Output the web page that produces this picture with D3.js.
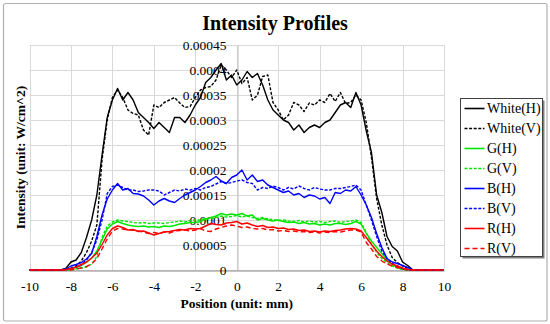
<!DOCTYPE html>
<html>
<head>
<meta charset="utf-8">
<script src="https://cdn.jsdelivr.net/npm/d3@7/dist/d3.min.js"></script>
<style>
  html, body { margin: 0; padding: 0; background: #fff; }
  svg { display: block; font-family: "Liberation Serif", "Times New Roman", serif; }
</style>
</head>
<body>
<svg id="chart"></svg>
<script>
// values are in units of 1e-5 W/cm^2
const UNIT = 1e-5

const position = [-10,
  -8.5, -8.25, -8, -7.75, -7.5, -7.25, -7, -6.75, -6.5, -6.25, -6, -5.75, -5.5, -5.25, -5, -4.75, -4.5, -4.25,
  -4, -3.75, -3.5, -3.25, -3, -2.75, -2.5, -2.25, -2, -1.75, -1.5, -1.25, -1, -0.75, -0.5, -0.25,
  0, 0.25, 0.5, 0.75, 1, 1.25, 1.5, 1.75, 2, 2.25, 2.5, 2.75, 3, 3.25, 3.5, 3.75,
  4, 4.25, 4.5, 4.75, 5, 5.25, 5.5, 5.75, 6, 6.25, 6.5, 6.75, 7, 7.25, 7.5, 7.75, 8, 8.25, 8.5,
  10]

const whiteH = [0,
  0, 0.3, 1.6, 2.0, 3.5, 6.5, 10, 15, 23, 30.5, 34, 36.3, 34, 35.5, 34, 31.5, 30.5, 29.5,
  28.3, 29.5, 28.5, 27.5, 30.5, 30.5, 29.5, 31, 33, 34.5, 37.5, 38.5, 40, 41.3, 38, 39,
  37, 38, 39.7, 38.5, 39.3, 37, 34, 32, 31, 30, 29.5, 28, 29, 27.5, 28.5, 29,
  28.5, 29.5, 30, 31.5, 33, 33.5, 32.5, 35.5, 33, 27.8, 23.5, 15, 11.5, 6.7, 4.7, 3.8, 1.6, 0.9, 0,
  0]

const whiteV = [0,
  0, 0, 0.4, 0.8, 1.8, 3.5, 5.8, 9, 22, 30, 34.5, 36, 34.5, 32, 31.3, 31, 28, 27,
  33, 32.5, 33.5, 34, 34.5, 33.4, 32.5, 32.7, 34.5, 36, 36.5, 36.7, 38, 41, 40, 38.5,
  40, 37.3, 38.5, 34, 35, 38.7, 39, 33.5, 32, 30, 31, 33.5, 33, 31.7, 33.4, 33,
  34, 33.5, 35.3, 33.7, 35.5, 33.3, 33.5, 35, 34, 29.5, 22.5, 14.3, 9, 5, 2.5, 1.5, 0.8, 0.4, 0,
  0]

const gH = [0,
  0, 0, 0.3, 0.5, 0.9, 1.5, 2.4, 3.8, 6, 8.2, 9.2, 9.7, 9.3, 9, 8.8, 8.7, 8.8, 8.6,
  8.7, 8.5, 8.8, 8.7, 8.9, 9.2, 9.3, 9.5, 9.5, 9.7, 10.2, 10.5, 10.8, 11.3, 11, 11.2,
  11, 11.3, 10.8, 11, 10, 10.3, 10, 9.8, 10, 9.7, 9.5, 9.6, 9.3, 9.5, 9.2, 9.3,
  9, 9.2, 9, 9.3, 9.3, 9.1, 9.3, 9.7, 9.2, 7.3, 5.8, 4.5, 3.3, 2, 1.1, 0.6, 0.2, 0, 0,
  0]

const gV = [0,
  0, 0, 0, 0.2, 0.4, 0.6, 1.2, 2.7, 6.5, 8.8, 9.6, 10, 9.8, 9.7, 9.5, 9.4, 9.5, 9.3,
  9.4, 9.4, 9.3, 9.5, 9.6, 9.8, 9.6, 9.9, 10, 10, 10.3, 10.2, 10.5, 10.8, 10.6, 10.7,
  10.9, 10.6, 10.8, 10.5, 10.3, 10.5, 10.2, 10.1, 9.9, 10, 9.8, 9.7, 9.9, 9.6, 9.8, 9.6,
  9.7, 9.5, 9.7, 9.8, 9.5, 9.7, 9.8, 10, 9.5, 7.5, 5.2, 3.5, 2.3, 1.5, 0.8, 0.4, 0.1, 0, 0,
  0]

const bH = [0,
  0, 0.2, 0.8, 1.1, 1.5, 2.2, 3.3, 6.7, 11, 14.2, 16, 17.3, 16, 16.3, 15.3, 15.2, 14.8, 14,
  13, 13.8, 14.3, 13.8, 13.5, 14.3, 15, 15.5, 16, 16.7, 17.5, 18, 18.7, 17.8, 17.3, 18.5,
  19, 20, 18, 19, 17.7, 18, 17, 16.5, 16, 15.5, 15.8, 15, 15.3, 14.5, 15, 14.8,
  14.2, 14.5, 13.3, 15.5, 15.3, 16, 15.8, 16.7, 15, 13, 10.5, 7.3, 4.5, 2.3, 1.6, 1.3, 0.9, 0.5, 0,
  0]

const bV = [0,
  0, 0, 0.3, 0.6, 1, 2, 3.5, 6, 10, 15.3, 16.7, 17, 16.5, 16, 16, 15.7, 15.8, 16,
  16, 15.8, 15, 15.5, 16, 15.8, 16.2, 16, 16.3, 16, 16.5, 16.7, 17.2, 17.7, 17.3, 17.5,
  17.8, 18, 17.5, 17.3, 16, 16.5, 16.3, 16.8, 16.5, 16, 16.5, 16.2, 16.8, 16.3, 16, 16.5,
  16.2, 16, 16, 16.3, 16.3, 16.5, 16.7, 17, 16, 13, 10, 6.7, 3.8, 2.3, 1.3, 0.8, 0.3, 0, 0,
  0]

const rH = [0,
  0, 0.1, 0.3, 0.6, 1.1, 1.6, 2.4, 3.4, 5.1, 7, 8.3, 8.8, 8.5, 8, 8.1, 7.7, 7.8, 7.4,
  7, 7.3, 7.6, 7.7, 7.9, 8.1, 8, 8.3, 8.2, 8.3, 8.8, 9.3, 9.1, 9, 9.4, 9.5,
  9.7, 9.2, 9.4, 9, 8.7, 8.9, 8.5, 8.6, 8.3, 8.4, 8.1, 8.2, 7.9, 8, 7.7, 7.8,
  7.6, 7.8, 7.7, 7.9, 8, 8.2, 8.3, 8.2, 7.8, 6.5, 5.1, 3.8, 2.7, 1.8, 1.2, 0.8, 0.4, 0.1, 0,
  0]

const rV = [0,
  0, 0, 0, 0.2, 0.4, 0.7, 1.2, 2.3, 4.2, 6.2, 7.8, 8.3, 8.2, 8, 8, 7.8, 7.6, 7.3,
  7.5, 7.3, 7.6, 7.4, 7.8, 7.9, 8, 7.8, 8, 8.3, 7.8, 7.7, 8.2, 8.5, 8.8, 9,
  8.8, 8.5, 8.6, 8.3, 8.2, 8.3, 8, 8.1, 7.8, 7.9, 7.7, 7.8, 7.6, 7.7, 7.5, 7.6,
  7.4, 7.6, 7.5, 7.7, 7.6, 7.8, 8, 8, 7.6, 5.5, 4.2, 2.7, 1.8, 1.2, 0.8, 0.5, 0.2, 0, 0,
  0]

const seriesNames = ['White(H)', 'White(V)', 'G(H)', 'G(V)', 'B(H)', 'B(V)', 'R(H)', 'R(V)']
const xTicks = [-10, -8, -6, -4, -2, 0, 2, 4, 6, 8, 10]
const yTicks = [0, 0.00005, 0.0001, 0.00015, 0.0002, 0.00025, 0.0003, 0.00035, 0.0004, 0.00045]
const yTickLabels = ['0', '0.00005', '0.0001', '0.00015', '0.0002', '0.00025', '0.0003', '0.00035', '0.0004', '0.00045']

const series = [
  { name: seriesNames[0], values: whiteH, color: '#000000', dash: null },
  { name: seriesNames[1], values: whiteV, color: '#000000', dash: '3,1.6' },
  { name: seriesNames[2], values: gH, color: '#00e600', dash: null },
  { name: seriesNames[3], values: gV, color: '#00e600', dash: '3,1.6' },
  { name: seriesNames[4], values: bH, color: '#0000ff', dash: null },
  { name: seriesNames[5], values: bV, color: '#0000ff', dash: '3,1.6' },
  { name: seriesNames[6], values: rH, color: '#ff0000', dash: null },
  { name: seriesNames[7], values: rV, color: '#ff0000', dash: '5,3' }
]

const width = 550
const height = 324
const margin = { top: 45, right: 106, bottom: 54, left: 29.5 }

const svg = d3.select('#chart')
  .attr('width', width)
  .attr('height', height)

// outer chart frame
svg.append('rect')
  .attr('x', 3.5).attr('y', 3.5)
  .attr('width', 543.5).attr('height', 317.5)
  .attr('rx', 2)
  .attr('fill', '#fff')
  .attr('stroke', '#b0b0b0')
  .attr('stroke-width', 1.2)

const x = d3.scaleLinear()
  .domain([-10, 10])
  .range([margin.left, width - margin.right])

const y = d3.scaleLinear()
  .domain([0, 0.00045])
  .range([height - margin.bottom, margin.top])

// gridlines
const grid = svg.append('g').attr('stroke', '#d9d9d9').attr('stroke-width', 1)
grid.selectAll('line.v')
  .data(xTicks)
  .join('line')
  .attr('class', 'v')
  .attr('x1', d => Math.round(x(d)) + 0.5).attr('x2', d => Math.round(x(d)) + 0.5)
  .attr('y1', y(0.00045)).attr('y2', y(0))
grid.selectAll('line.h')
  .data(yTicks)
  .join('line')
  .attr('class', 'h')
  .attr('x1', x(-10)).attr('x2', x(10))
  .attr('y1', d => Math.round(y(d)) + 0.5).attr('y2', d => Math.round(y(d)) + 0.5)

// x axis along y = 0
const xAxis = (g) => g
  .attr('transform', `translate(0,${Math.round(y(0)) + 0.5})`)
  .call(
    d3.axisBottom(x)
      .tickValues(xTicks)
      .tickSize(0)
      .tickPadding(11)
      .tickFormat(d => String(d))
  )
  .call(g => g.select('.domain').attr('stroke', '#8c8c8c'))

// y axis crosses at x = 0
const yAxis = (g) => g
  .attr('transform', `translate(${Math.round(x(0)) + 0.5},0)`)
  .call(
    d3.axisLeft(y)
      .tickValues(yTicks)
      .tickSize(0)
      .tickPadding(11)
      .tickFormat((d, i) => yTickLabels[i])
  )
  .call(g => g.select('.domain').attr('stroke', '#bfbfbf'))

svg.append('g').call(xAxis)
svg.append('g').call(yAxis)

svg.selectAll('.tick text')
  .attr('font-family', '"Liberation Serif", "Times New Roman", serif')
  .attr('font-size', 13.5)
  .attr('fill', '#000')

// data lines
const line = d3.line()
  .x((d, i) => x(position[i]))
  .y(d => y(d * UNIT))

svg.append('g')
  .selectAll('path')
  .data(series)
  .join('path')
  .attr('fill', 'none')
  .attr('stroke', d => d.color)
  .attr('stroke-width', 1.4)
  .attr('stroke-dasharray', d => d.dash)
  .attr('stroke-linejoin', 'round')
  .attr('d', d => line(d.values))

// titles
svg.append('text')
  .attr('x', 275).attr('y', 30)
  .attr('text-anchor', 'middle')
  .attr('font-weight', 'bold')
  .attr('font-size', 20)
  .text('Intensity Profiles')

svg.append('text')
  .attr('x', x(0)).attr('y', 308)
  .attr('text-anchor', 'middle')
  .attr('font-weight', 'bold')
  .attr('font-size', 13.5)
  .text('Position (unit: mm)')

svg.append('text')
  .attr('transform', `translate(25,${(y(0) + y(0.00045)) / 2}) rotate(-90)`)
  .attr('text-anchor', 'middle')
  .attr('font-weight', 'bold')
  .attr('font-size', 13.5)
  .text('Intensity (unit: W/cm^2)')

// legend
const legend = svg.append('g').attr('transform', 'translate(460.5,98.5)')
legend.append('rect')
  .attr('x', 2).attr('y', 2)
  .attr('width', 82).attr('height', 158)
  .attr('fill', '#7f7f7f')
legend.append('rect')
  .attr('width', 82).attr('height', 158)
  .attr('fill', '#fff')
  .attr('stroke', '#404040')
  .attr('stroke-width', 1)

const item = legend.selectAll('g.item')
  .data(series)
  .join('g')
  .attr('class', 'item')
  .attr('transform', (d, i) => `translate(0,${10 + i * 20})`)

item.append('line')
  .attr('x1', 4).attr('x2', 24)
  .attr('stroke', d => d.color)
  .attr('stroke-width', 1.6)
  .attr('stroke-dasharray', d => d.dash)

item.append('text')
  .attr('x', 26.5).attr('dy', '0.35em')
  .attr('font-size', 14)
  .text(d => d.name)
</script>
</body>
</html>
